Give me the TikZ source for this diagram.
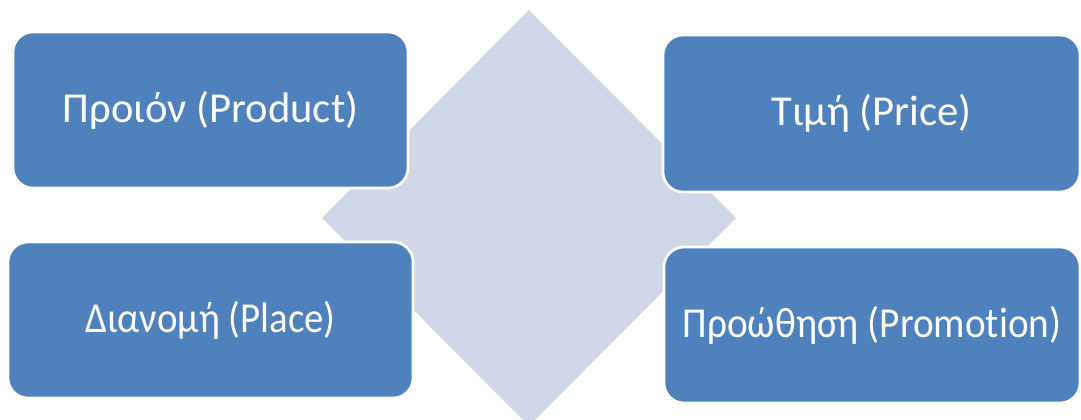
\documentclass[tikz,border=0pt]{standalone}
\usepackage{fontspec}
\setmainfont[Ligatures=NoCommon]{Carlito}
\definecolor{boxblue}{RGB}{79,129,189}
\definecolor{diamondgray}{RGB}{208,216,232}
\begin{document}
\begin{tikzpicture}[x=0.75pt,y=-0.75pt,
  mixbox/.style={rectangle, rounded corners=15pt, fill=boxblue, draw=white,
    line width=2pt, text=white, font=\fontsize{32}{38}\selectfont,
    inner sep=0pt, align=center}]
\useasboundingbox (0,0) rectangle (1081,419);
\clip (0,0) rectangle (1081,419);
% background diamond
\fill[diamondgray] (529,10) -- (736,218) -- (529,426) -- (322,218) -- cycle;
% the four elements of the mix
\node[mixbox, minimum width=296.25pt, minimum height=117pt] (product) at (210.5,110) {Προιόν (Product)};
\node[mixbox, minimum width=312.75pt, minimum height=117.75pt] (price) at (871.5,113.5) {Τιμή (Price)};
\node[mixbox, minimum width=303.75pt, minimum height=117pt] (place) at (210.5,320) {\scalebox{0.91}[1]{Διανομή (Place)}};
\node[mixbox, minimum width=312pt, minimum height=117pt] (promotion) at (872,325) {\scalebox{0.92}[1]{Προώθηση (Promotion)}};
\end{tikzpicture}
\end{document}
